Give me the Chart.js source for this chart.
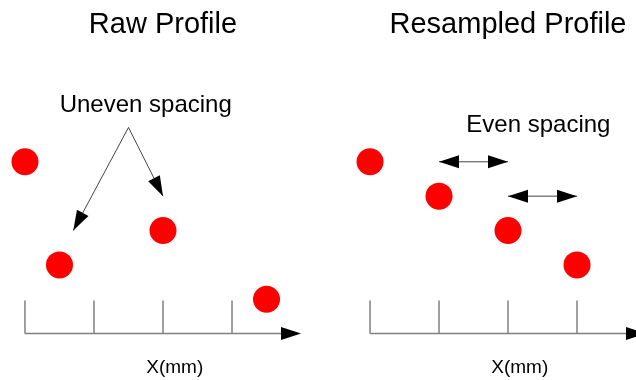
<!DOCTYPE html>
<html>
<head>
<meta charset="utf-8">
<script src="https://cdn.jsdelivr.net/npm/chart.js@4"></script>
<style>
  body { margin: 0; background: #fff; }
  .wrap { display: flex; width: 636px; height: 380px; }
  .panel { width: 318px; height: 380px; }
</style>
</head>
<body>
<div class="wrap">
  <div class="panel"><canvas id="raw" width="318" height="380"></canvas></div>
  <div class="panel"><canvas id="resampled" width="318" height="380"></canvas></div>
</div>
<script>
// x in mm, y in arbitrary profile units
const rawX = [0, 0.5, 2, 3.5]
const rawY = [5, 2, 3, 1]
const resampledX = [0, 1, 2, 3]
const resampledY = [5, 4, 3, 2]
const tickValues = [0, 1, 2, 3]
const axisEnd = 4
const tickHeight = 0.96
const xLabel = 'X(mm)'

// annotations: arrows [fromX, fromY, toX, toY, doubleHeaded]
const unevenArrows = [
  [1.5, 6, 0.7, 3, false],
  [1.5, 6, 2, 4, false],
]
const evenArrows = [
  [1, 5, 2, 5, true],
  [2, 4, 3, 4, true],
]

const FONT = "'Liberation Sans', Arial, sans-serif"

function toPoints(xs, ys) {
  return xs.map((x, i) => ({ x: x, y: ys[i] }))
}

function arrowHead(ctx, tx, ty, angle, len, half) {
  ctx.save()
  ctx.translate(tx, ty)
  ctx.rotate(angle)
  ctx.beginPath()
  ctx.moveTo(0, 0)
  ctx.lineTo(-len, -half)
  ctx.lineTo(-len, half)
  ctx.closePath()
  ctx.fillStyle = '#000'
  ctx.fill()
  ctx.restore()
}

// draws axis, ticks, arrows and texts through the chart's own scales
const diagramPlugin = {
  id: 'diagram',
  beforeDatasetsDraw(chart, args, opts) {
    const ctx = chart.ctx
    const xs = chart.scales.x
    const ys = chart.scales.y
    const px = v => xs.getPixelForValue(v)
    const py = v => ys.getPixelForValue(v)

    ctx.save()
    // x axis with ticks pointing up
    ctx.strokeStyle = '#808080'
    ctx.lineWidth = 1.5
    ctx.beginPath()
    ctx.moveTo(px(0), py(0))
    ctx.lineTo(px(axisEnd) - 18, py(0))
    tickValues.forEach(t => {
      ctx.moveTo(px(t), py(0))
      ctx.lineTo(px(t), py(tickHeight))
    })
    ctx.stroke()
    arrowHead(ctx, px(axisEnd), py(0), 0, 20, 6.5)

    // annotation arrows
    ctx.strokeStyle = '#444'
    ctx.lineWidth = 1
    opts.arrows.forEach(a => {
      const x1 = px(a[0]), y1 = py(a[1]), x2 = px(a[2]), y2 = py(a[3])
      const ang = Math.atan2(y2 - y1, x2 - x1)
      ctx.beginPath()
      ctx.moveTo(x1, y1)
      ctx.lineTo(x2, y2)
      ctx.stroke()
      arrowHead(ctx, x2, y2, ang, 20, 6.5)
      if (a[4]) arrowHead(ctx, x1, y1, ang + Math.PI, 20, 6.5)
    })

    // texts
    ctx.fillStyle = '#000'
    ctx.textAlign = 'center'
    ctx.textBaseline = 'alphabetic'
    ctx.font = '29px ' + FONT
    ctx.fillText(opts.title, px(2), py(8.74))
    ctx.textBaseline = 'middle'
    ctx.font = '24px ' + FONT
    ctx.fillText(opts.note[0], px(opts.note[1]), py(opts.note[2]))
    ctx.font = '19px ' + FONT
    ctx.fillText(xLabel, px(2.17), py(-1.0))
    ctx.restore()
  },
}

function makeChart(id, title, xs, ys, xMin, xMax, arrows, note) {
  return new Chart(document.getElementById(id), {
    type: 'scatter',
    data: {
      datasets: [
        {
          data: toPoints(xs, ys),
          backgroundColor: '#ff0000',
          borderWidth: 0,
          pointRadius: 13.5,
          pointHoverRadius: 13.5,
          clip: false,
        },
      ],
    },
    options: {
      responsive: false,
      animation: false,
      events: [],
      layout: { padding: { top: 39.8, left: 0, right: 0, bottom: 0 }, autoPadding: false },
      scales: {
        x: { type: 'linear', display: false, min: xMin, max: xMax },
        y: { type: 'linear', display: false, min: -1.35, max: 8.55 },
      },
      plugins: {
        legend: { display: false },
        tooltip: { enabled: false },
        title: { display: false },
        diagram: { arrows: arrows, note: note, title: title },
      },
    },
    plugins: [diagramPlugin],
  })
}

const rawChart = makeChart('raw', 'Raw Profile', rawX, rawY, -0.362, 4.246,
  unevenArrows, ['Uneven spacing', 1.75, 6.63])

const resampledChart = makeChart('resampled', 'Resampled Profile', resampledX, resampledY, -0.754, 3.855,
  evenArrows, ['Even spacing', 2.44, 6.05])
</script>
</body>
</html>
